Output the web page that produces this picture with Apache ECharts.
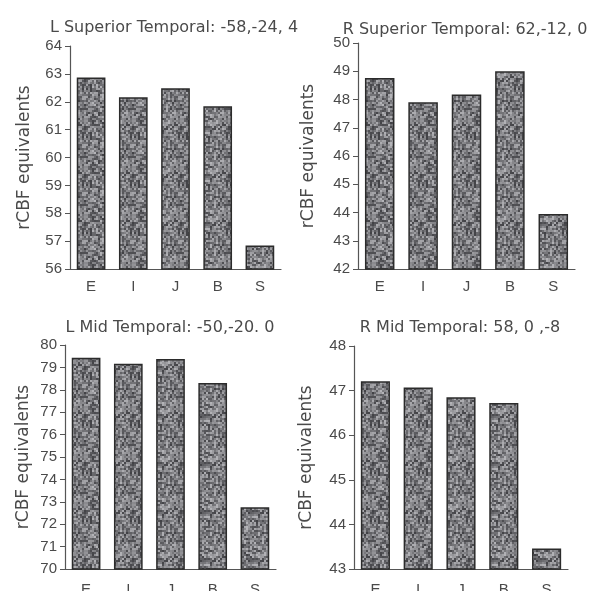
<!DOCTYPE html>
<html>
<head>
<meta charset="utf-8">
<script src="https://cdn.jsdelivr.net/npm/echarts@6/dist/echarts.min.js"></script>
<style>
html,body{margin:0;padding:0;background:#fff;}
#main{width:597px;height:591px;}
</style>
</head>
<body>
<div id="main"></div>
<script>
// ---- Data ----
var categories = ['E', 'I', 'J', 'B', 'S'];
var titles = [
  'L Superior Temporal: -58,-24, 4',
  'R Superior Temporal: 62,-12, 0',
  'L Mid Temporal: -50,-20. 0',
  'R Mid Temporal: 58, 0 ,-8'
];
var lSupTemporal = [62.87, 62.16, 62.48, 61.84, 56.84];
var rSupTemporal = [48.76, 47.9, 48.18, 49.0, 43.95];
var lMidTemporal = [79.43, 79.16, 79.37, 78.3, 72.76];
var rMidTemporal = [47.21, 47.07, 46.85, 46.72, 43.46];
var yMins = [56, 42, 70, 43];
var yMaxs = [64, 50, 80, 48];
var seriesValues = [lSupTemporal, rSupTemporal, lMidTemporal, rMidTemporal];

// ---- Speckle texture (style only, deterministic) ----
function makeTexture() {
  var c = document.createElement('canvas');
  c.width = 48; c.height = 48;
  var ctx = c.getContext('2d');
  var s = 12345;
  function rnd() { s = (s * 1103515245 + 12345) & 0x7fffffff; return s / 0x7fffffff; }
  for (var y = 0; y < 48; y += 2) {
    for (var x = 0; x < 48; x += 2) {
      var g = Math.round(65 + rnd() * 115);
      ctx.fillStyle = 'rgb(' + g + ',' + g + ',' + (g + 4) + ')';
      ctx.fillRect(x, y, 2, 2);
    }
  }
  return c;
}
var tex = makeTexture();

var grids = [
  {left: 70, width: 211, top: 46, height: 223, outerBoundsMode: 'none', containLabel: false},
  {left: 358, width: 217, top: 43, height: 226, outerBoundsMode: 'none', containLabel: false},
  {left: 65, width: 211, top: 345, height: 224, outerBoundsMode: 'none', containLabel: false},
  {left: 354, width: 214, top: 346, height: 223, outerBoundsMode: 'none', containLabel: false}
];
var titlePos = [
  {x: 174, y: 20},
  {x: 465, y: 22},
  {x: 170, y: 320},
  {x: 460, y: 320}
];
var nameGaps = [37, 41, 33, 39];
var xLabelMargins = [10, 10, 13, 13];

var fontFamily = 'Liberation Sans, Arial, sans-serif';
var wideFont = 'DejaVu Sans, Liberation Sans, sans-serif';
var textColor = '#4a4a4a';
var lineColor = '#555';

var option = {
  animation: false,
  backgroundColor: '#fff',
  title: titles.map(function (t, i) {
    return {
      text: t, left: titlePos[i].x, top: titlePos[i].y, textAlign: 'center',
      padding: 0,
      textStyle: {fontFamily: wideFont, fontSize: 16, fontWeight: 'normal', color: textColor}
    };
  }),
  grid: grids,
  xAxis: grids.map(function (g, i) {
    return {
      type: 'category', gridIndex: i, data: categories,
      axisLine: {lineStyle: {color: lineColor, width: 1.2}},
      axisTick: {alignWithLabel: true, length: 5, lineStyle: {color: '#888'}},
      axisLabel: {fontFamily: fontFamily, fontSize: 15, color: textColor, margin: xLabelMargins[i]}
    };
  }),
  yAxis: grids.map(function (g, i) {
    return {
      type: 'value', gridIndex: i, min: yMins[i], max: yMaxs[i], interval: 1,
      name: 'rCBF equivalents', nameLocation: 'middle', nameGap: nameGaps[i], nameRotate: 90,
      nameTextStyle: {fontFamily: wideFont, fontSize: 17, color: textColor},
      axisLine: {show: true, lineStyle: {color: lineColor, width: 1.2}},
      axisTick: {show: true, length: 5, lineStyle: {color: lineColor}},
      splitLine: {show: false},
      axisLabel: {fontFamily: fontFamily, fontSize: 15, color: textColor, margin: 8}
    };
  }),
  series: seriesValues.map(function (vals, i) {
    return {
      type: 'bar', xAxisIndex: i, yAxisIndex: i, data: vals,
      barWidth: '68%',
      itemStyle: {
        color: {image: tex, repeat: 'repeat'},
        borderColor: '#2b2b2b', borderWidth: 1.5
      }
    };
  })
};

var chart = echarts.init(document.getElementById('main'), null, {renderer: 'canvas'});
chart.setOption(option);
</script>
</body>
</html>
